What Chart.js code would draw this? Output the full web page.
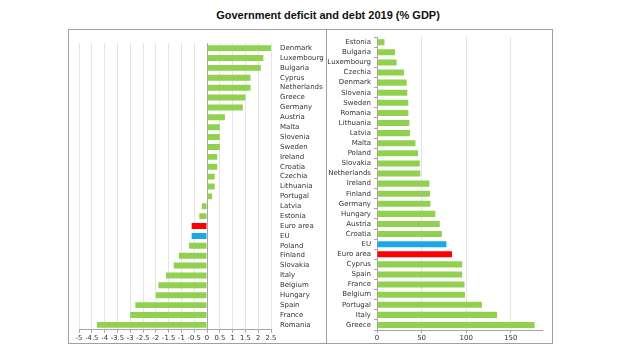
<!DOCTYPE html>
<html>
<head>
<meta charset="utf-8">
<script src="https://cdn.jsdelivr.net/npm/chart.js@4/dist/chart.umd.min.js"></script>
<style>
  body { margin: 0; background: #fff; }
  #wrap { position: relative; width: 623px; height: 350px; }
  #title { position: absolute; left: 100px; width: 456px; top: 9px; text-align: center;
           font: bold 11px "Liberation Sans", Arial, sans-serif; line-height: 13px; color: #111; }
  #box { position: absolute; left: 68px; top: 29px; width: 485px; height: 315px;
         border: 1px solid #a0a0a0; box-sizing: border-box; }
  #divider { position: absolute; left: 326px; top: 29px; width: 1px; height: 315px; background: #a0a0a0; }
  #deficit { position: absolute; left: 69px; top: 30px; }
  #debt { position: absolute; left: 327px; top: 30px; }
</style>
</head>
<body>
<div id="wrap">
  <div id="title">Government deficit and debt 2019 (% GDP)</div>
  <div id="box"></div>
  <div id="divider"></div>
  <canvas id="deficit" width="257" height="313"></canvas>
  <canvas id="debt" width="226" height="313"></canvas>
</div>
<script>
// Deficit (-) / surplus (+), % of GDP
const deficitCountries = ['Denmark', 'Luxembourg', 'Bulgaria', 'Cyprus', 'Netherlands', 'Greece', 'Germany',
  'Austria', 'Malta', 'Slovenia', 'Sweden', 'Ireland', 'Croatia', 'Czechia', 'Lithuania', 'Portugal', 'Latvia',
  'Estonia', 'Euro area', 'EU', 'Poland', 'Finland', 'Slovakia', 'Italy', 'Belgium', 'Hungary', 'Spain',
  'France', 'Romania'];
const deficitValues = [2.5, 2.2, 2.1, 1.7, 1.7, 1.5, 1.4, 0.7, 0.5, 0.5, 0.5, 0.4, 0.4, 0.3, 0.3, 0.2, -0.2,
  -0.3, -0.6, -0.6, -0.7, -1.1, -1.3, -1.6, -1.9, -2.0, -2.8, -3.0, -4.3];

// Debt, % of GDP
const debtCountries = ['Estonia', 'Bulgaria', 'Luxembourg', 'Czechia', 'Denmark', 'Slovenia', 'Sweden',
  'Romania', 'Lithuania', 'Latvia', 'Malta', 'Poland', 'Slovakia', 'Netherlands', 'Ireland', 'Finland',
  'Germany', 'Hungary', 'Austria', 'Croatia', 'EU', 'Euro area', 'Cyprus', 'Spain', 'France', 'Belgium',
  'Portugal', 'Italy', 'Greece'];
const debtValues = [8.4, 20.2, 22.0, 30.2, 33.3, 34.0, 35.1, 35.2, 36.3, 36.9, 43.1, 46.0, 48.0, 48.6, 58.8,
  59.4, 59.8, 65.4, 70.4, 72.8, 77.8, 84.1, 95.5, 95.5, 98.1, 98.6, 117.7, 134.7, 176.6];
const debtTicks = [0, 50, 100, 150];

const GREEN = '#92d050';
const RED = '#ff0000';
const BLUE = '#1aa8e8';
const AXIS = '#a6a6a6';
const GRID = '#e4e4e4';
const FONT = { family: 'DejaVu Sans', size: 7 };
const TEXT = '#333';

const barColours = (names) => names.map((n) => (n === 'EU' ? BLUE : n === 'Euro area' ? RED : GREEN));

new Chart(document.getElementById('deficit'), {
  type: 'bar',
  data: {
    labels: deficitCountries,
    datasets: [{ data: deficitValues, backgroundColor: barColours(deficitCountries), barPercentage: 0.6, categoryPercentage: 1 }],
  },
  options: {
    indexAxis: 'y',
    responsive: false,
    animation: false,
    layout: { padding: { left: 10, top: 5, right: 0, bottom: 0 } },
    plugins: { legend: { display: false }, tooltip: { enabled: false } },
    scales: {
      x: {
        min: -5, max: 2.5,
        ticks: {
          stepSize: 0.5, autoSkip: false, maxRotation: 0, font: { family: 'DejaVu Sans', size: 6.8 }, color: TEXT, padding: 1,
          callback: (v) => String(Math.round(v * 10) / 10),
        },
        grid: { color: (c) => (c.tick && c.tick.value === 0 ? AXIS : GRID), tickLength: 3, tickColor: AXIS },
        border: { color: AXIS },
        afterFit: (s) => { s.height = 13; },
      },
      y: {
        position: 'right',
        grid: { display: false, drawTicks: false },
        border: { display: false },
        ticks: { autoSkip: false, font: FONT, color: TEXT, padding: 9 },
        afterFit: (s) => { s.width = 55; },
      },
    },
  },
});

new Chart(document.getElementById('debt'), {
  type: 'bar',
  data: {
    labels: debtCountries,
    datasets: [{ data: debtValues, backgroundColor: barColours(debtCountries), barPercentage: 0.6, categoryPercentage: 1 }],
  },
  options: {
    indexAxis: 'y',
    responsive: false,
    animation: false,
    layout: { padding: { left: 0, top: 5, right: 11, bottom: 0 } },
    plugins: { legend: { display: false }, tooltip: { enabled: false } },
    scales: {
      x: {
        min: 0, max: 185,
        afterBuildTicks: (s) => { s.ticks = debtTicks.map((v) => ({ value: v })); },
        ticks: { autoSkip: false, maxRotation: 0, font: FONT, color: TEXT, padding: 1 },
        grid: { color: GRID, tickLength: 3, tickColor: AXIS },
        border: { color: AXIS },
        afterFit: (s) => { s.height = 13; },
      },
      y: {
        position: 'left',
        grid: { drawOnChartArea: false, tickLength: 3, color: AXIS },
        border: { color: AXIS },
        ticks: { autoSkip: false, font: FONT, color: TEXT, padding: 3 },
        afterFit: (s) => { s.width = 50; },
      },
    },
  },
});
</script>
</body>
</html>
